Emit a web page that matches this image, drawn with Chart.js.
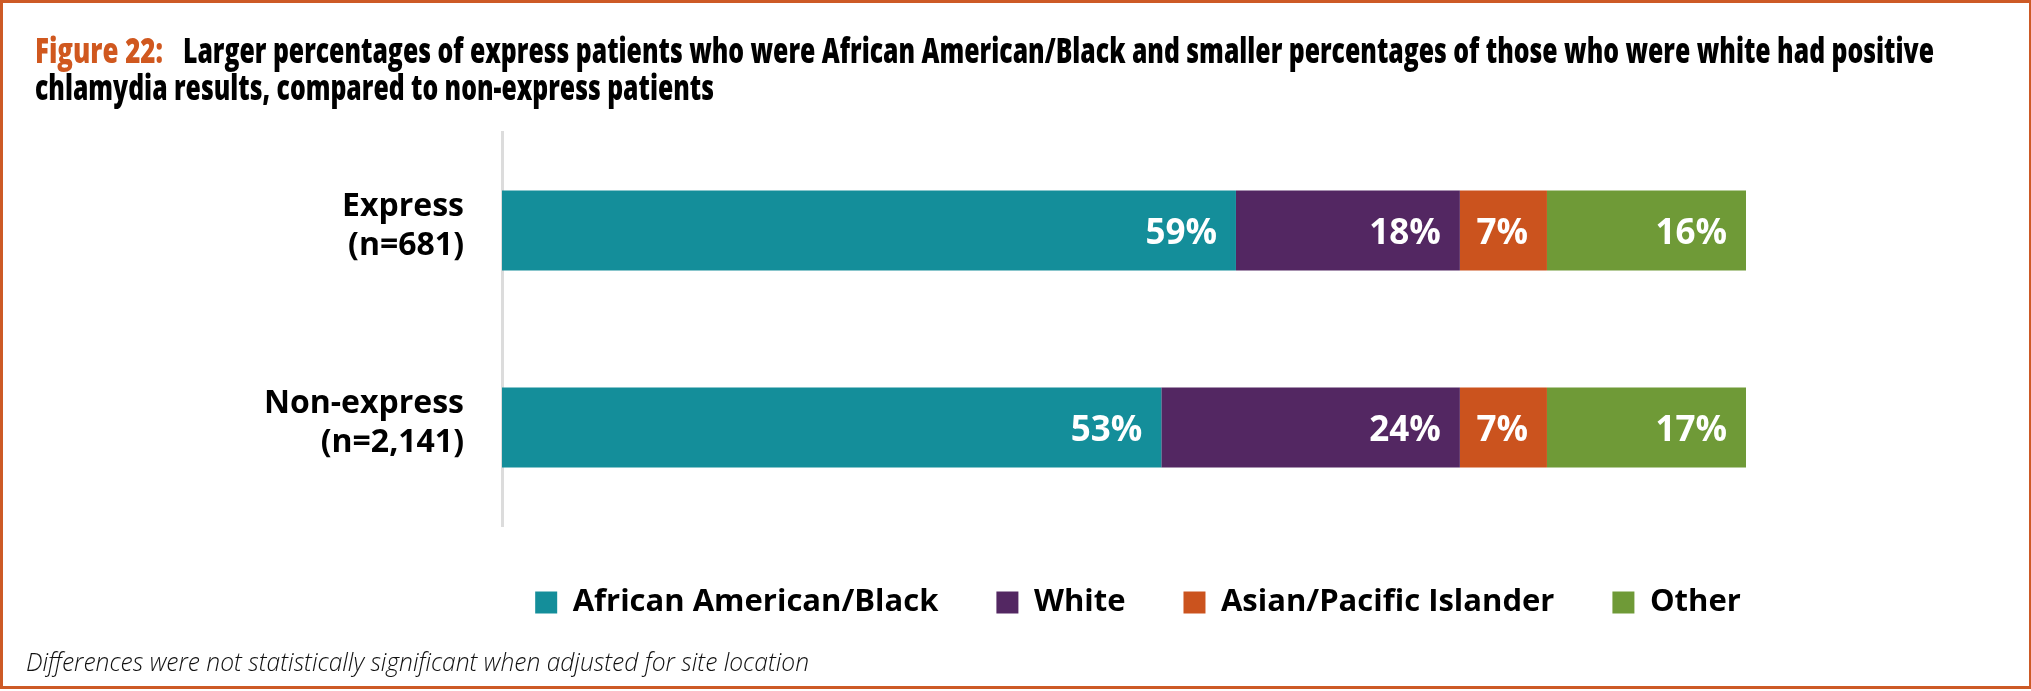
<!DOCTYPE html>
<html>
<head>
<meta charset="utf-8">
<script src="https://cdn.jsdelivr.net/npm/chart.js@4.4.1/dist/chart.umd.min.js"></script>
<style>
  html, body { margin: 0; padding: 0; background: #fff; }
  #wrap { position: relative; width: 2031px; height: 691px; }
  #frame {
    position: absolute; left: 0; top: 0; width: 2031px; height: 689px;
    box-sizing: border-box; border: 3px solid #cd5a26; border-right-width: 2px;
    pointer-events: none;
  }
  canvas { position: absolute; left: 0; top: 0; }
</style>
</head>
<body>
<div id="wrap">
  <canvas id="chart" width="2031" height="691"></canvas>
  <div id="frame"></div>
</div>
<script>
const groups = [["Express", "(n=681)"], ["Non-express", "(n=2,141)"]];
const races = ["African American/Black", "White", "Asian/Pacific Islander", "Other"];
const blackPct = [59, 53];
const whitePct = [18, 24];
const asianPct = [7, 7];
const otherPct = [16, 17];
const raceColors = ["#148e9a", "#532762", "#cb531e", "#6f9a37"];

const titleLead = "Figure 22:";
const titleLines = [
  "Larger percentages of express patients who were African American/Black and smaller percentages of those who were white had positive",
  "chlamydia results, compared to non-express patients",
];
const footnote = "Differences were not statistically significant when adjusted for site location";

const FONT = "'Open Sans', 'Noto Sans', sans-serif";

// white % figures, right-aligned inside each segment
const segmentLabels = {
  id: "segmentLabels",
  afterDatasetsDraw(chart) {
    const { ctx, chartArea } = chart;
    ctx.save();
    ctx.font = "700 35px " + FONT;
    ctx.fillStyle = "#fff";
    ctx.textAlign = "right";
    ctx.textBaseline = "alphabetic";
    chart.data.datasets.forEach((ds, i) => {
      chart.getDatasetMeta(i).data.forEach((bar, j) => {
        const end = Math.min(bar.x, chartArea.right);
        ctx.fillText(ds.data[j] + "%", end - 19, bar.y + 13);
      });
    });
    ctx.restore();
  },
};

// figure heading (condensed to fit its line) and the footnote
const headerText = {
  id: "headerText",
  afterDraw(chart) {
    const ctx = chart.ctx;
    ctx.save();
    ctx.textAlign = "left";
    ctx.textBaseline = "alphabetic";
    ctx.font = "800 35px " + FONT;
    ctx.fillStyle = "#d0581f";
    ctx.fillText(titleLead, 35, 63, 128);
    ctx.fillStyle = "#000";
    ctx.fillText(titleLines[0], 183, 63, 1751);
    ctx.fillText(titleLines[1], 35, 100, 679);
    ctx.font = "italic 300 25px " + FONT;
    ctx.fillStyle = "#111";
    ctx.fillText(footnote, 26, 671, 783);
    ctx.restore();
  },
};

// keep the legend centred under the bars (and a touch lower) rather than the whole canvas
const legendUnderBars = {
  id: "legendUnderBars",
  afterLayout(chart) {
    const lg = chart.legend;
    const ca = chart.chartArea;
    const shift = (ca.left + ca.right) / 2 + 14 - (lg.left + lg.right) / 2;
    lg.left += shift;
    lg.right += shift;
    lg.top += 3;
    lg.bottom += 3;
  },
};

const datasets = [blackPct, whitePct, asianPct, otherPct].map((vals, i) => ({
  label: races[i],
  data: vals,
  backgroundColor: raceColors[i],
  borderWidth: 0,
  barPercentage: 0.405,
  categoryPercentage: 1,
}));

new Chart(document.getElementById("chart"), {
  type: "bar",
  data: { labels: groups, datasets },
  options: {
    indexAxis: "y",
    responsive: false,
    animation: false,
    layout: { padding: { top: 132, right: 285, bottom: 66, left: 0 } },
    plugins: {
      title: { display: false },
      tooltip: { enabled: false },
      legend: {
        position: "bottom",
        labels: {
          boxWidth: 22,
          boxHeight: 22,
          padding: 58,
          color: "#000",
          font: { family: FONT, size: 31, weight: 700 },
        },
      },
    },
    scales: {
      x: { stacked: true, min: 0, max: 100, display: false },
      y: {
        stacked: true,
        afterFit(scale) { scale.width = 502; },
        grid: { display: false, drawTicks: false },
        border: { display: true, color: "#dcdcdc", width: 3 },
        ticks: {
          padding: 38,
          labelOffset: -4,
          color: "#000",
          font: { family: FONT, size: 32, weight: 700, lineHeight: 1.2 },
        },
      },
    },
  },
  plugins: [segmentLabels, headerText, legendUnderBars],
});
</script>
</body>
</html>
